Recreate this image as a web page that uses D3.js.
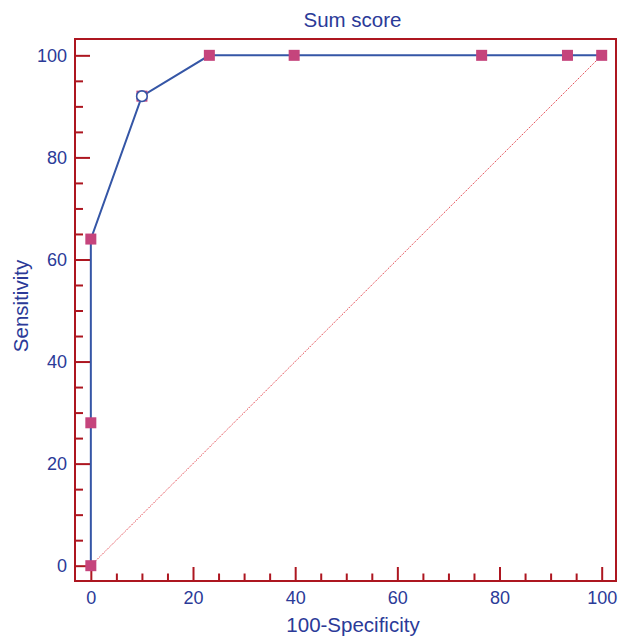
<!DOCTYPE html>
<html>
<head>
<meta charset="utf-8">
<script src="https://cdn.jsdelivr.net/npm/d3@7"></script>
<style>
  html, body { margin: 0; padding: 0; background: #fff; }
  svg { display: block; }
  text { font-family: "Liberation Sans", Arial, sans-serif; }
</style>
</head>
<body>
<svg id="chart" width="619" height="639"></svg>
<script>
// ---- data ----
const title = "Sum score";
const xLabel = "100-Specificity";
const yLabel = "Sensitivity";
const fpr = [0, 0, 0, 10, 23.2, 39.8, 76.5, 93.3, 100];      // 100-Specificity
const tpr = [0, 28, 64, 92, 100, 100, 100, 100, 100];        // Sensitivity
const optimalIndex = 3;                                      // criterion shown as open circle
const majorTicks = [0, 20, 40, 60, 80, 100];
const minorTicks = [5, 10, 15, 25, 30, 35, 45, 50, 55, 65, 70, 75, 85, 90, 95];
const diagonal = [[0, 0], [100, 100]];

// ---- styles ----
const RED = "#ad1620";
const BLUE_TEXT = "#2b3a98";
const LINE = "#3556a6";
const MARK = "#c5447c";

const svg = d3.select("#chart");
const x = d3.scaleLinear().domain([-3.1, 102.8]).range([75, 616]);
const y = d3.scaleLinear().domain([-3.0, 103.2]).range([581, 39]);

const [x0, x1] = x.range();
const [y0, y1] = y.range();

// Title
svg.append("text").attr("x", 352.5).attr("y", 26.5)
  .attr("text-anchor", "middle").attr("font-size", 20.5)
  .attr("fill", BLUE_TEXT).text(title);

// Axis labels
svg.append("text").attr("x", 353).attr("y", 632)
  .attr("text-anchor", "middle").attr("font-size", 20.5)
  .attr("fill", BLUE_TEXT).text(xLabel);
svg.append("text")
  .attr("transform", "translate(27.5," + 306 + ") rotate(-90)")
  .attr("text-anchor", "middle").attr("font-size", 20.5)
  .attr("fill", BLUE_TEXT).text(yLabel);

// Diagonal reference line
svg.append("path")
  .attr("d", d3.line().x(d => x(d[0])).y(d => y(d[1]))(diagonal))
  .attr("fill", "none").attr("stroke", "#e0303a").attr("stroke-width", 1)
  .attr("stroke-dasharray", "1.2,1.2");

// Axes (ticks inward)
const gx = svg.append("g").attr("transform", `translate(0,${y0})`);
gx.call(d3.axisBottom(x).tickValues(majorTicks).tickSize(-14).tickPadding(10.5).tickFormat(d3.format("d")));
const gxm = svg.append("g").attr("transform", `translate(0,${y0})`);
gxm.call(d3.axisBottom(x).tickValues(minorTicks).tickSize(-7.5).tickFormat(""));

const gy = svg.append("g").attr("transform", `translate(${x0},0)`);
gy.call(d3.axisLeft(y).tickValues(majorTicks).tickSize(-15).tickPadding(8).tickFormat(d3.format("d")));
const gym = svg.append("g").attr("transform", `translate(${x0},0)`);
gym.call(d3.axisLeft(y).tickValues(minorTicks).tickSize(-8).tickFormat(""));

svg.selectAll(".domain").remove();
svg.selectAll(".tick line").attr("stroke", RED).attr("stroke-width", 2);
svg.selectAll(".tick text").attr("fill", BLUE_TEXT).attr("font-size", 18)
  .attr("font-family", "\"Liberation Sans\", Arial, sans-serif");

// Frame
svg.append("rect")
  .attr("x", x0).attr("y", y1)
  .attr("width", x1 - x0).attr("height", y0 - y1)
  .attr("fill", "none").attr("stroke", RED).attr("stroke-width", 2);

// ROC line
const pts = fpr.map((v, i) => [v, tpr[i]]);
svg.append("path")
  .attr("d", d3.line().x(d => x(d[0])).y(d => y(d[1]))(pts))
  .attr("fill", "none").attr("stroke", LINE).attr("stroke-width", 2);

// Markers
const S = 11;
svg.append("g").selectAll("rect").data(pts).join("rect")
  .attr("x", d => x(d[0]) - S / 2).attr("y", d => y(d[1]) - S / 2)
  .attr("width", S).attr("height", S).attr("fill", MARK);

// Optimal point
svg.append("circle")
  .attr("cx", x(fpr[optimalIndex])).attr("cy", y(tpr[optimalIndex]))
  .attr("r", 5.3).attr("fill", "#fff").attr("stroke", LINE).attr("stroke-width", 1.6);
</script>
</body>
</html>
